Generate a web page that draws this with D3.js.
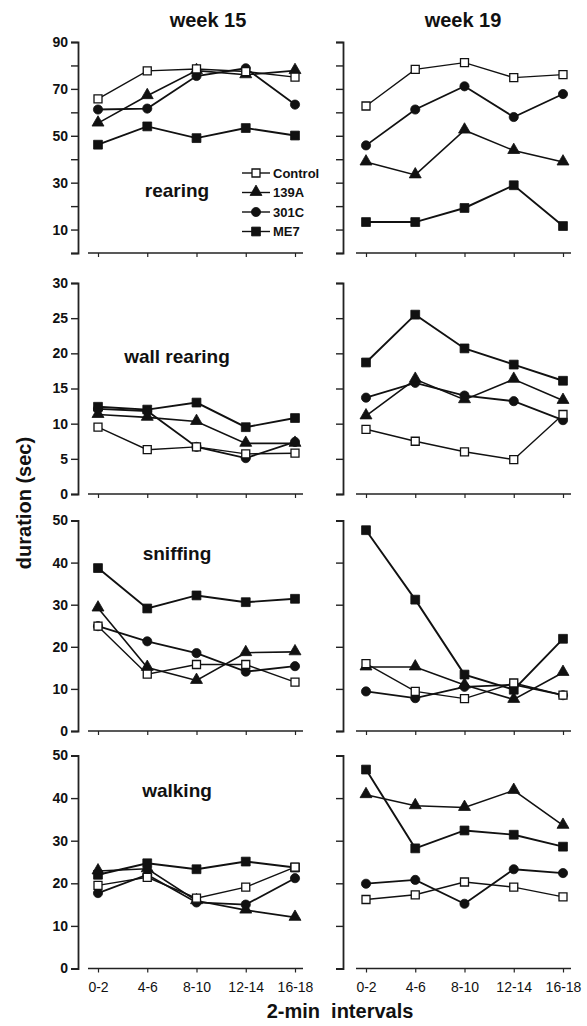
<!DOCTYPE html>
<html>
<head>
<meta charset="utf-8">
<style>
    body { margin: 0; background: #fff; }
    svg { display: block; font-family: "Liberation Sans", Arial, sans-serif; }
</style>
</head>
<body>
<svg id="chart" width="587" height="1026"></svg>

<script src="https://d3js.org/d3.v7.min.js"></script>
<script>
    // --- data ---
    var intervals = ["0-2", "4-6", "8-10", "12-14", "16-18"];
    var groups = ["Control", "139A", "301C", "ME7"];
    var weeks = ["week 15", "week 19"];
    var behaviours = ["rearing", "wall rearing", "sniffing", "walking"];

    // each array: Control, 139A, 301C, ME7
    var rearing15 = [
        [65.7, 77.7, 78.5, 77.4, 75.0],
        [55.4, 67.1, 77.8, 76.0, 77.8],
        [61.2, 61.6, 75.5, 78.8, 63.3],
        [46.2, 54.0, 49.0, 53.3, 50.1]
    ];
    var rearing19 = [
        [62.7, 78.3, 81.2, 74.8, 76.1],
        [38.8, 33.3, 52.4, 43.7, 38.8],
        [45.9, 61.2, 71.1, 58.0, 67.8],
        [13.2, 13.2, 19.2, 28.9, 11.5]
    ];
    var wall15 = [
        [9.5, 6.3, 6.7, 5.7, 5.8],
        [11.3, 10.9, 10.3, 7.2, 7.2],
        [12.1, 11.8, 6.7, 5.1, 7.4],
        [12.4, 12.0, 13.0, 9.5, 10.8]
    ];
    var wall19 = [
        [9.2, 7.5, 6.0, 4.9, 11.3],
        [11.1, 16.3, 13.4, 16.3, 13.3],
        [13.7, 15.8, 14.0, 13.2, 10.5],
        [18.7, 25.5, 20.7, 18.4, 16.1]
    ];
    var sniffing15 = [
        [24.9, 13.5, 15.8, 15.8, 11.6],
        [29.2, 15.1, 12.0, 18.6, 18.8],
        [24.9, 21.3, 18.5, 14.1, 15.4],
        [38.7, 29.1, 32.2, 30.6, 31.4]
    ];
    var sniffing19 = [
        [16.0, 9.4, 7.7, 11.4, 8.5],
        [15.2, 15.2, 10.9, 7.5, 13.9],
        [9.4, 7.8, 10.5, 11.0, 8.5],
        [47.7, 31.2, 13.4, 9.8, 21.9]
    ];
    var walking15 = [
        [19.5, 21.4, 16.5, 19.1, 23.8],
        [22.9, 23.4, 15.9, 13.7, 12.0],
        [17.7, 22.0, 15.5, 15.0, 21.2],
        [22.0, 24.7, 23.3, 25.1, 23.7]
    ];
    var walking19 = [
        [16.2, 17.3, 20.3, 19.1, 16.8],
        [40.8, 38.2, 37.8, 41.8, 33.6],
        [19.9, 20.8, 15.2, 23.3, 22.4],
        [46.7, 28.2, 32.4, 31.4, 28.6]
    ];

    var yMax = [90, 30, 50, 50];
    var yStep = [10, 5, 10, 10];
    var panelData = [
        [rearing15, rearing19],
        [wall15, wall19],
        [sniffing15, sniffing19],
        [walking15, walking19]
    ];

    // --- layout ---
    var svg = d3.select("#chart");
    var rowTop = [42, 283, 520.5, 755.5],
        rowBottom = [253, 494, 731, 968.5];
    var yAxisX = [78, 343];
    var xRange = [[98, 295], [366, 563]];
    var font = "'Liberation Sans', Arial, sans-serif";

    var symbolOf = {
        "Control": d3.symbolSquare,
        "139A": d3.symbolTriangle,
        "301C": d3.symbolCircle,
        "ME7": d3.symbolSquare
    };
    var sizeOf = {"Control": 64, "139A": 62, "301C": 66, "ME7": 78};
    var fillOf = {"Control": "#fff", "139A": "#111", "301C": "#111", "ME7": "#111"};
    var lineW = {"Control": 1.4, "139A": 1.6, "301C": 1.8, "ME7": 1.9};

    function drawMarker(g, name, x, y) {
        var sym = d3.symbol().type(symbolOf[name]).size(sizeOf[name]);
        g.append("path")
            .attr("d", sym())
            .attr("transform", "translate(" + x + "," + (name === "139A" ? y - 0.5 : y) + ")")
            .attr("fill", fillOf[name])
            .attr("stroke", "#111")
            .attr("stroke-width", name === "Control" ? 1.3 : 0.8);
    }

    for (var r = 0; r < 4; r++) {
        for (var c = 0; c < 2; c++) {
            var g = svg.append("g");
            var y = d3.scaleLinear().domain([0, yMax[r]]).range([rowBottom[r], rowTop[r]]);
            var x = d3.scalePoint().domain(intervals).range(xRange[c]);
            var step = yStep[r];
            var ticks = d3.range(0, yMax[r] + step / 2, step);

            // y axis
            var yAxis = d3.axisLeft(y).tickValues(ticks).tickSizeOuter(0).tickSize(7).tickPadding(3)
                .tickFormat(function (d) {
                    if (c === 1) return "";
                    if (r === 0) return (d % 20 === 10) ? d : "";
                    return d;
                });
            var ya = g.append("g").attr("transform", "translate(" + yAxisX[c] + ",0)").call(yAxis);
            ya.select(".domain").attr("stroke", "#222").attr("stroke-width", 1.8);
            ya.selectAll(".tick line").attr("stroke", "#222").attr("stroke-width", 1.4);
            ya.selectAll(".tick text").attr("font-family", font).attr("font-size", 14)
                .attr("font-weight", "bold").attr("fill", "#111");

            // x axis (detached from the y axis)
            var xa = g.append("g").attr("transform", "translate(0," + rowBottom[r] + ")")
                .call(d3.axisBottom(x).tickSize(4).tickSizeOuter(0).tickPadding(10)
                    .tickFormat(r === 3 ? null : function () { return ""; }));
            xa.select(".domain").remove();
            xa.append("line")
                .attr("x1", xRange[c][0] - 10).attr("x2", xRange[c][1] + 8)
                .attr("stroke", "#222").attr("stroke-width", 1.6);
            xa.selectAll(".tick line").attr("stroke", "#222").attr("stroke-width", 1.2);
            xa.selectAll(".tick text").attr("font-family", font).attr("font-size", 14)
                .attr("fill", "#111");

            // series: draw in reverse so Control sits on top
            var data = panelData[r][c];
            for (var s = groups.length - 1; s >= 0; s--) {
                var name = groups[s];
                var vals = data[s];
                var line = d3.line()
                    .x(function (d, i) { return x(intervals[i]); })
                    .y(function (d) { return y(d); });
                g.append("path")
                    .datum(vals)
                    .attr("d", line)
                    .attr("fill", "none")
                    .attr("stroke", "#111")
                    .attr("stroke-width", lineW[name]);
                vals.forEach(function (v, i) {
                    drawMarker(g, name, x(intervals[i]), y(v));
                });
            }
        }
    }

    // week titles
    svg.selectAll(".week").data(weeks).enter().append("text")
        .attr("x", function (d, i) { return [208, 463][i]; })
        .attr("y", 27)
        .attr("text-anchor", "middle")
        .attr("font-family", font).attr("font-size", 20).attr("font-weight", "bold")
        .attr("fill", "#111")
        .text(function (d) { return d; });

    // behaviour labels
    var labelY = [197, 363, 560, 797];
    svg.selectAll(".beh").data(behaviours).enter().append("text")
        .attr("x", 177)
        .attr("y", function (d, i) { return labelY[i]; })
        .attr("text-anchor", "middle")
        .attr("font-family", font).attr("font-size", 19).attr("font-weight", "bold")
        .attr("fill", "#111")
        .text(function (d) { return d; });

    // legend
    var legend = svg.append("g");
    groups.forEach(function (name, i) {
        var ly = 173 + i * 19.5;
        legend.append("line")
            .attr("x1", 242).attr("x2", 270).attr("y1", ly).attr("y2", ly)
            .attr("stroke", "#111").attr("stroke-width", 1.4);
        drawMarker(legend, name, 256, ly);
        legend.append("text")
            .attr("x", 273).attr("y", ly + 4.5)
            .attr("font-family", font).attr("font-size", 13).attr("font-weight", "bold")
            .attr("fill", "#111")
            .text(name);
    });

    // axis titles
    svg.append("text")
        .attr("transform", "translate(31,503) rotate(-90)")
        .attr("text-anchor", "middle")
        .attr("font-family", font).attr("font-size", 20).attr("font-weight", "bold")
        .attr("fill", "#111")
        .text("duration (sec)");

    svg.append("text")
        .attr("x", 340).attr("y", 1018)
        .attr("text-anchor", "middle")
        .attr("font-family", font).attr("font-size", 20).attr("font-weight", "bold")
        .attr("fill", "#111")
        .attr("xml:space", "preserve")
        .text("2-min  intervals");
</script>
</body>
</html>
